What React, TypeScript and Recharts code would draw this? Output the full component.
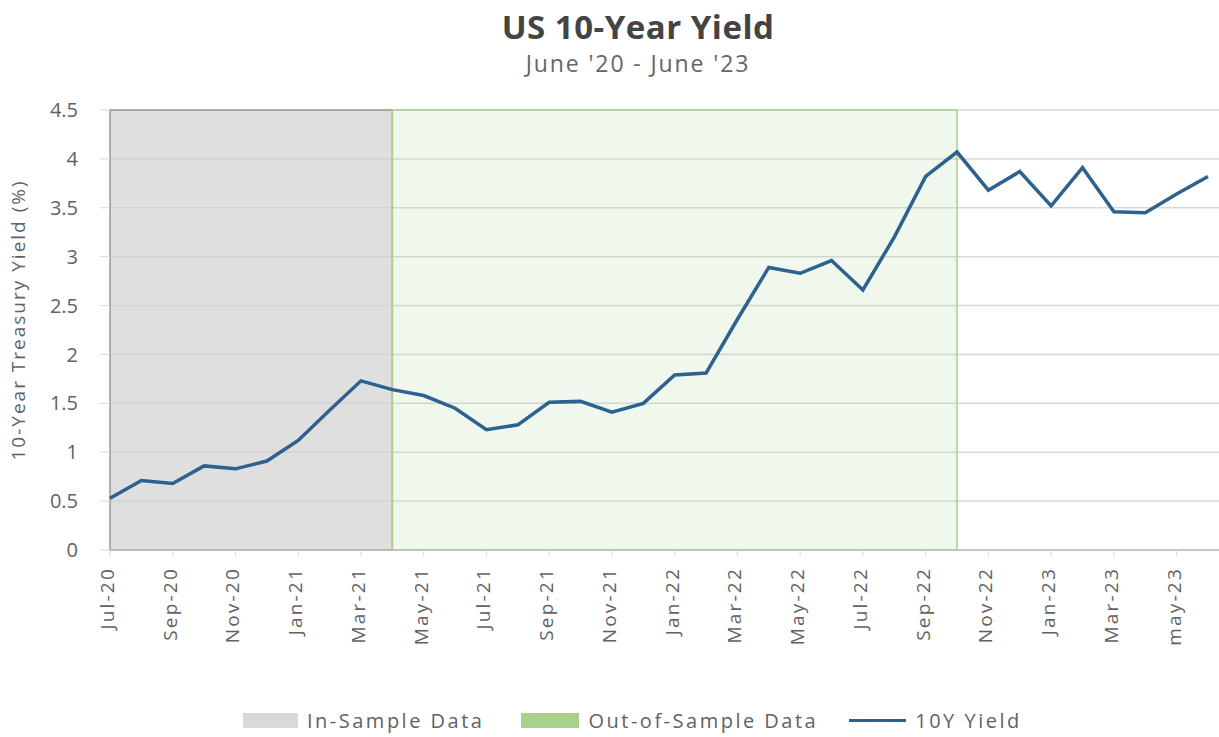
import { LineChart, Line, XAxis, YAxis, CartesianGrid, ReferenceArea, Legend } from 'recharts';

const MONTHS = [
  'Jul-20', 'Aug-20', 'Sep-20', 'Oct-20', 'Nov-20', 'Dec-20',
  'Jan-21', 'Feb-21', 'Mar-21', 'Apr-21', 'May-21', 'Jun-21',
  'Jul-21', 'Aug-21', 'Sep-21', 'Oct-21', 'Nov-21', 'Dec-21',
  'Jan-22', 'Feb-22', 'Mar-22', 'Apr-22', 'May-22', 'Jun-22',
  'Jul-22', 'Aug-22', 'Sep-22', 'Oct-22', 'Nov-22', 'Dec-22',
  'Jan-23', 'Feb-23', 'Mar-23', 'Apr-23', 'may-23', 'Jun-23',
];

const YIELDS = [
  0.53, 0.71, 0.68, 0.86, 0.83, 0.91,
  1.12, 1.43, 1.73, 1.64, 1.58, 1.45,
  1.23, 1.28, 1.51, 1.52, 1.41, 1.50,
  1.79, 1.81, 2.36, 2.89, 2.83, 2.96,
  2.66, 3.20, 3.82, 4.07, 3.68, 3.87,
  3.52, 3.91, 3.46, 3.45, 3.64, 3.82,
];

const Y_TICKS = [0, 0.5, 1, 1.5, 2, 2.5, 3, 3.5, 4, 4.5];

// sample windows
const IN_SAMPLE = ['Jul-20', 'Apr-21'];
const OUT_SAMPLE = ['Apr-21', 'Oct-22'];

const data = MONTHS.map((m, i) => ({ month: m, yield: YIELDS[i] }));

const FONT = "'Open Sans', 'Noto Sans', sans-serif";
const LINE_COLOR = '#2d6190';
const TEXT = '#626262';

function MonthTick({ x, y, payload }: any) {
  return (
    <text
      x={0}
      y={0}
      transform={`translate(${x - 3}, ${y + 9}) rotate(-90)`}
      textAnchor="end"
      dominantBaseline="central"
      fill={TEXT}
      fontSize={19}
      letterSpacing={2.2}
      fontFamily={FONT}
    >
      {payload.value}
    </text>
  );
}

function YLabel({ viewBox }: any) {
  const cx = viewBox.x + 18;
  const cy = viewBox.y + viewBox.height / 2 - 10;
  return (
    <text
      x={0}
      y={0}
      transform={`translate(${cx}, ${cy}) rotate(-90)`}
      textAnchor="middle"
      dominantBaseline="central"
      fill={TEXT}
      fontSize={19}
      letterSpacing={2}
      fontFamily={FONT}
    >
      10-Year Treasury Yield (%)
    </text>
  );
}

function LegendBox() {
  const item = { display: 'flex', alignItems: 'center' } as const;
  return (
    <div
      style={{
        display: 'flex',
        justifyContent: 'flex-start',
        alignItems: 'center',
        fontFamily: FONT,
        fontSize: 20,
        letterSpacing: 2.5,
        color: TEXT,
        height: 34,
        paddingLeft: 243,
      }}
    >
      <div style={{ ...item, marginRight: 37 }}>
        <span style={{ width: 55, height: 15, background: '#d9d9d9', marginRight: 9 }} />
        In-Sample Data
      </div>
      <div style={{ ...item, marginRight: 31 }}>
        <span style={{ width: 58, height: 15, background: '#a9d18e', marginRight: 9 }} />
        Out-of-Sample Data
      </div>
      <div style={item}>
        <span style={{ width: 57, height: 3, background: LINE_COLOR, marginRight: 9 }} />
        10Y Yield
      </div>
    </div>
  );
}

export default function App() {
  return (
    <div style={{ position: 'absolute', left: 0, top: 0, width: 1219, height: 737, background: '#fff' }}>
      <div
        style={{
          position: 'absolute',
          left: 638,
          top: 5,
          transform: 'translateX(-50%)',
          textAlign: 'center',
          fontFamily: FONT,
          whiteSpace: 'nowrap',
        }}
      >
        <div style={{ fontSize: 33, fontWeight: 700, color: '#444', lineHeight: '44px', letterSpacing: 0.5 }}>
          US 10-Year Yield
        </div>
        <div style={{ fontSize: 23, color: '#666', lineHeight: '28px', letterSpacing: 1.9 }}>June '20 - June '23</div>
      </div>
      <LineChart
        width={1219}
        height={737}
        data={data}
        margin={{ top: 110, right: 0, bottom: 0, left: 0 }}
      >
        <CartesianGrid vertical={false} stroke="#d9d9d9" strokeWidth={1.5} />
        <ReferenceArea
          x1={IN_SAMPLE[0]}
          x2={IN_SAMPLE[1]}
          y1={0}
          y2={4.5}
          fill="#d0d0d0"
          fillOpacity={0.68}
          stroke="#999"
          strokeWidth={1.5}
        />
        <ReferenceArea
          x1={OUT_SAMPLE[0]}
          x2={OUT_SAMPLE[1]}
          y1={0}
          y2={4.5}
          fill="#a9d18e"
          fillOpacity={0.17}
          stroke="#a9d18e"
          strokeWidth={1.5}
        />
        <XAxis
          dataKey="month"
          scale="point"
          padding={{ left: 0, right: 11 }}
          interval={1}
          height={153}
          tick={<MonthTick />}
          tickLine={{ stroke: '#d9d9d9' }}
          axisLine={{ stroke: '#bfbfbf', strokeWidth: 1.5 }}
        />
        <YAxis
          width={110}
          domain={[0, 4.5]}
          ticks={Y_TICKS}
          interval={0}
          tickSize={10}
          tickMargin={22}
          axisLine={false}
          tickLine={{ stroke: '#d9d9d9' }}
          tick={{ fill: TEXT, fontSize: 20, fontFamily: FONT }}
          label={<YLabel />}
        />
        <Line
          type="linear"
          dataKey="yield"
          name="10Y Yield"
          stroke={LINE_COLOR}
          strokeWidth={3.5}
          dot={false}
          isAnimationActive={false}
        />
        <Legend verticalAlign="bottom" height={34} content={<LegendBox />} />
      </LineChart>
    </div>
  );
}
